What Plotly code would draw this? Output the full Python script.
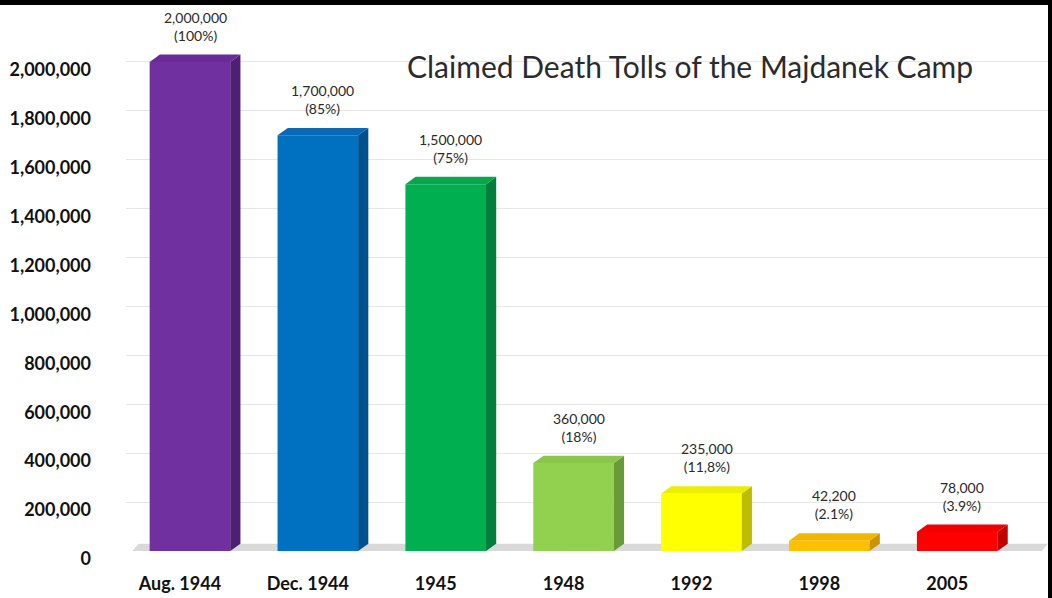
import plotly.graph_objects as go

categories = ["Aug. 1944", "Dec. 1944", "1945", "1948", "1992", "1998", "2005"]
values = [2000000, 1700000, 1500000, 360000, 235000, 42200, 78000]
pct_labels = ["(100%)", "(85%)", "(75%)", "(18%)", "(11,8%)", "(2.1%)", "(3.9%)"]
value_labels = ["2,000,000", "1,700,000", "1,500,000", "360,000", "235,000", "42,200", "78,000"]
front_colors = ["#7030A0", "#0070C0", "#00B050", "#92D050", "#FFFF00", "#FFC000", "#FF0000"]
side_colors = ["#4E1F75", "#00528F", "#007F3A", "#6A9A38", "#BDBD00", "#C89400", "#C00000"]
top_colors = ["#6A2A98", "#0A68B5", "#06A84B", "#8AC64A", "#EDED00", "#F2B600", "#F00000"]
y_ticks = [0, 200000, 400000, 600000, 800000, 1000000, 1200000, 1400000, 1600000, 1800000, 2000000]
y_ticktext = ["0", "200,000", "400,000", "600,000", "800,000", "1,000,000", "1,200,000",
              "1,400,000", "1,600,000", "1,800,000", "2,000,000"]
title_text = "Claimed Death Tolls of the Majdanek Camp"

W = 0.63      # bar width (category units)
DX = 0.08     # depth offset x (category units)
DY = 30000    # depth offset y (data units)
N = len(categories)
XMAX = N - 0.5 + 0.21

fig = go.Figure()
fig.add_trace(go.Bar(
    x=list(range(N)), y=values,
    marker=dict(color=front_colors, line=dict(width=0)),
    width=W, hoverinfo="skip", showlegend=False,
))

shapes = []
# floor shadow
shapes.append(dict(type="path", xref="x", yref="y",
                   path=f"M -0.45 0 L {XMAX - 0.05} 0 L {XMAX} {DY} L -0.4 {DY} Z",
                   fillcolor="#d9d9d9", line=dict(width=0), layer="below"))
for i, v in enumerate(values):
    xl, xr = i - W / 2, i + W / 2
    shapes.append(dict(type="path", xref="x", yref="y",
                       path=f"M {xr} 0 L {xr+DX} {DY} L {xr+DX} {v+DY} L {xr} {v} Z",
                       fillcolor=side_colors[i], line=dict(width=0)))
    shapes.append(dict(type="path", xref="x", yref="y",
                       path=f"M {xl} {v} L {xl+DX} {v+DY} L {xr+DX} {v+DY} L {xr} {v} Z",
                       fillcolor=top_colors[i], line=dict(width=0)))

annotations = []
for i, v in enumerate(values):
    annotations.append(dict(x=i + DX / 2, y=v + DY, xref="x", yref="y",
                            text=f"{value_labels[i]}<br>{pct_labels[i]}",
                            showarrow=False, yanchor="bottom", yshift=9,
                            font=dict(family="Lato, sans-serif", size=14, color="#2a2a2a"),
                            align="center"))
annotations.append(dict(text=title_text, xref="paper", yref="paper",
                        x=0.3026, y=0.901, xanchor="left", yanchor="middle", showarrow=False,
                        font=dict(family="Lato, sans-serif", size=30, color="#2b2b2b")))

fig.update_layout(
    width=1052, height=598,
    margin=dict(l=126, r=4, t=13, b=47),
    paper_bgcolor="white", plot_bgcolor="white",
    shapes=shapes,
    annotations=annotations,
    font=dict(family="Lato, sans-serif"),
)

fig.update_xaxes(
    tickmode="array", tickvals=list(range(N)), ticktext=categories,
    range=[-0.5, XMAX],
    tickfont=dict(family="Lato, sans-serif", size=18, color="#111111", weight="bold"),
    showgrid=False, zeroline=False, showline=False, ticks="",
    ticklabelstandoff=20, ticklabelshift=-10,
)
fig.update_yaxes(
    tickmode="array", tickvals=y_ticks, ticktext=y_ticktext,
    range=[0, 2200000],
    tickfont=dict(family="Lato, sans-serif", size=18, color="#111111", weight="bold"),
    showgrid=True, gridcolor="#e6e6e6", gridwidth=1,
    zeroline=False, showline=False, ticks="",
    ticklabelstandoff=34, ticklabelshift=8,
)

# black frame bands (top and right edges)
fig.add_shape(type="rect", xref="paper", yref="paper", x0=-0.2, x1=1.2, y0=1.0 + 8 / 538, y1=1.2,
              fillcolor="black", line=dict(width=0))
fig.add_shape(type="rect", xref="paper", yref="paper", x0=1.0, x1=1.1, y0=-0.2, y1=1.2,
              fillcolor="black", line=dict(width=0))

fig.write_html("out.html", config={"displayModeBar": False},
               post_script="document.body.style.margin='0px';")
